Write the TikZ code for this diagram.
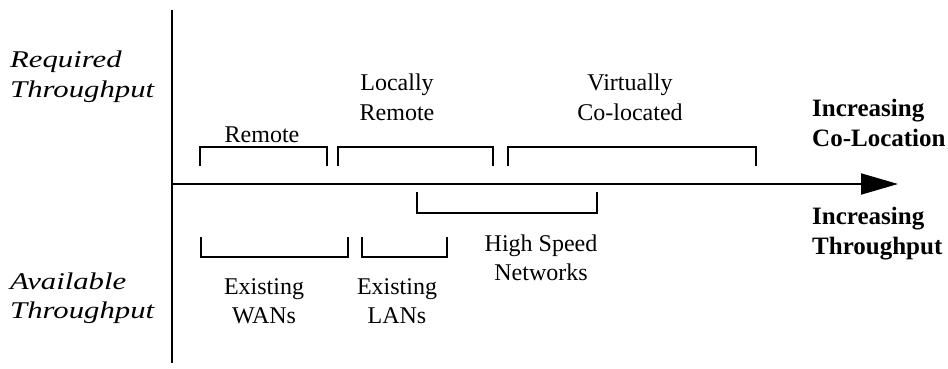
\documentclass[tikz,border=0pt]{standalone}
\usepackage{fontspec}
\setmainfont{Liberation Serif}
\newfontfamily\axisfont[FakeStretch=1.28]{Liberation Serif}
\usepackage{tikz}
\usetikzlibrary{arrows.meta,positioning}

\tikzset{
    lbl/.style={align=center, anchor=base, inner sep=0pt,
        font=\fontsize{24}{29}\selectfont},
    side/.style={align=left, anchor=base west, inner sep=0pt,
        font=\fontsize{24}{29}\selectfont\axisfont\itshape},
    goal/.style={align=left, anchor=base west, inner sep=0pt,
        font=\fontsize{25}{30}\selectfont\bfseries},
    axis/.style={line width=1.9pt},
    bracket/.style={line width=1.9pt, line join=miter}
}

\begin{document}
\begin{tikzpicture}[x=1pt,y=-1pt]
\useasboundingbox (0,0) rectangle (948,369);
    \coordinate (origin) at (172,184);
    \coordinate (top) at (172,10);
    \coordinate (bottom) at (172,363);
    \coordinate (tip) at (898,184);
    \draw[axis] (top) -- (bottom);
    \draw[axis,-{Triangle[length=37pt,width=21pt]}] (origin) -- (tip);

    \node[side] (req) at (10,97) {Required\\Throughput};
    \node[side] (avail) at (10,318) {Available\\Throughput};
    \node[goal] (coloc) at (812,146) {Increasing\\Co-Location};
    \node[goal] (thru) at (812,254) {Increasing\\Throughput};

    \draw[bracket] (200,166) |- (327,147) -- (327,166);
    \draw[bracket] (338,166) |- (493,147) -- (493,166);
    \draw[bracket] (508,166) |- (756,147) -- (756,166);
    \draw[bracket] (417,192) |- (597,213) -- (597,192);
    \draw[bracket] (201,237) |- (348,257) -- (348,237);
    \draw[bracket] (362,237) |- (447,257) -- (447,237);

    \node[lbl] (remote) at (262,142) {Remote};
    \node[lbl] (local) at (397,120) {Locally\\Remote};
    \node[lbl] (virtual) at (630,120) {Virtually\\Co-located};
    \node[lbl] (fast) at (541,280) {High Speed\\Networks};
    \node[lbl] (wan) at (264,323) {Existing\\WANs};
    \node[lbl] (lan) at (397,323) {Existing\\LANs};
\end{tikzpicture}
\end{document}
